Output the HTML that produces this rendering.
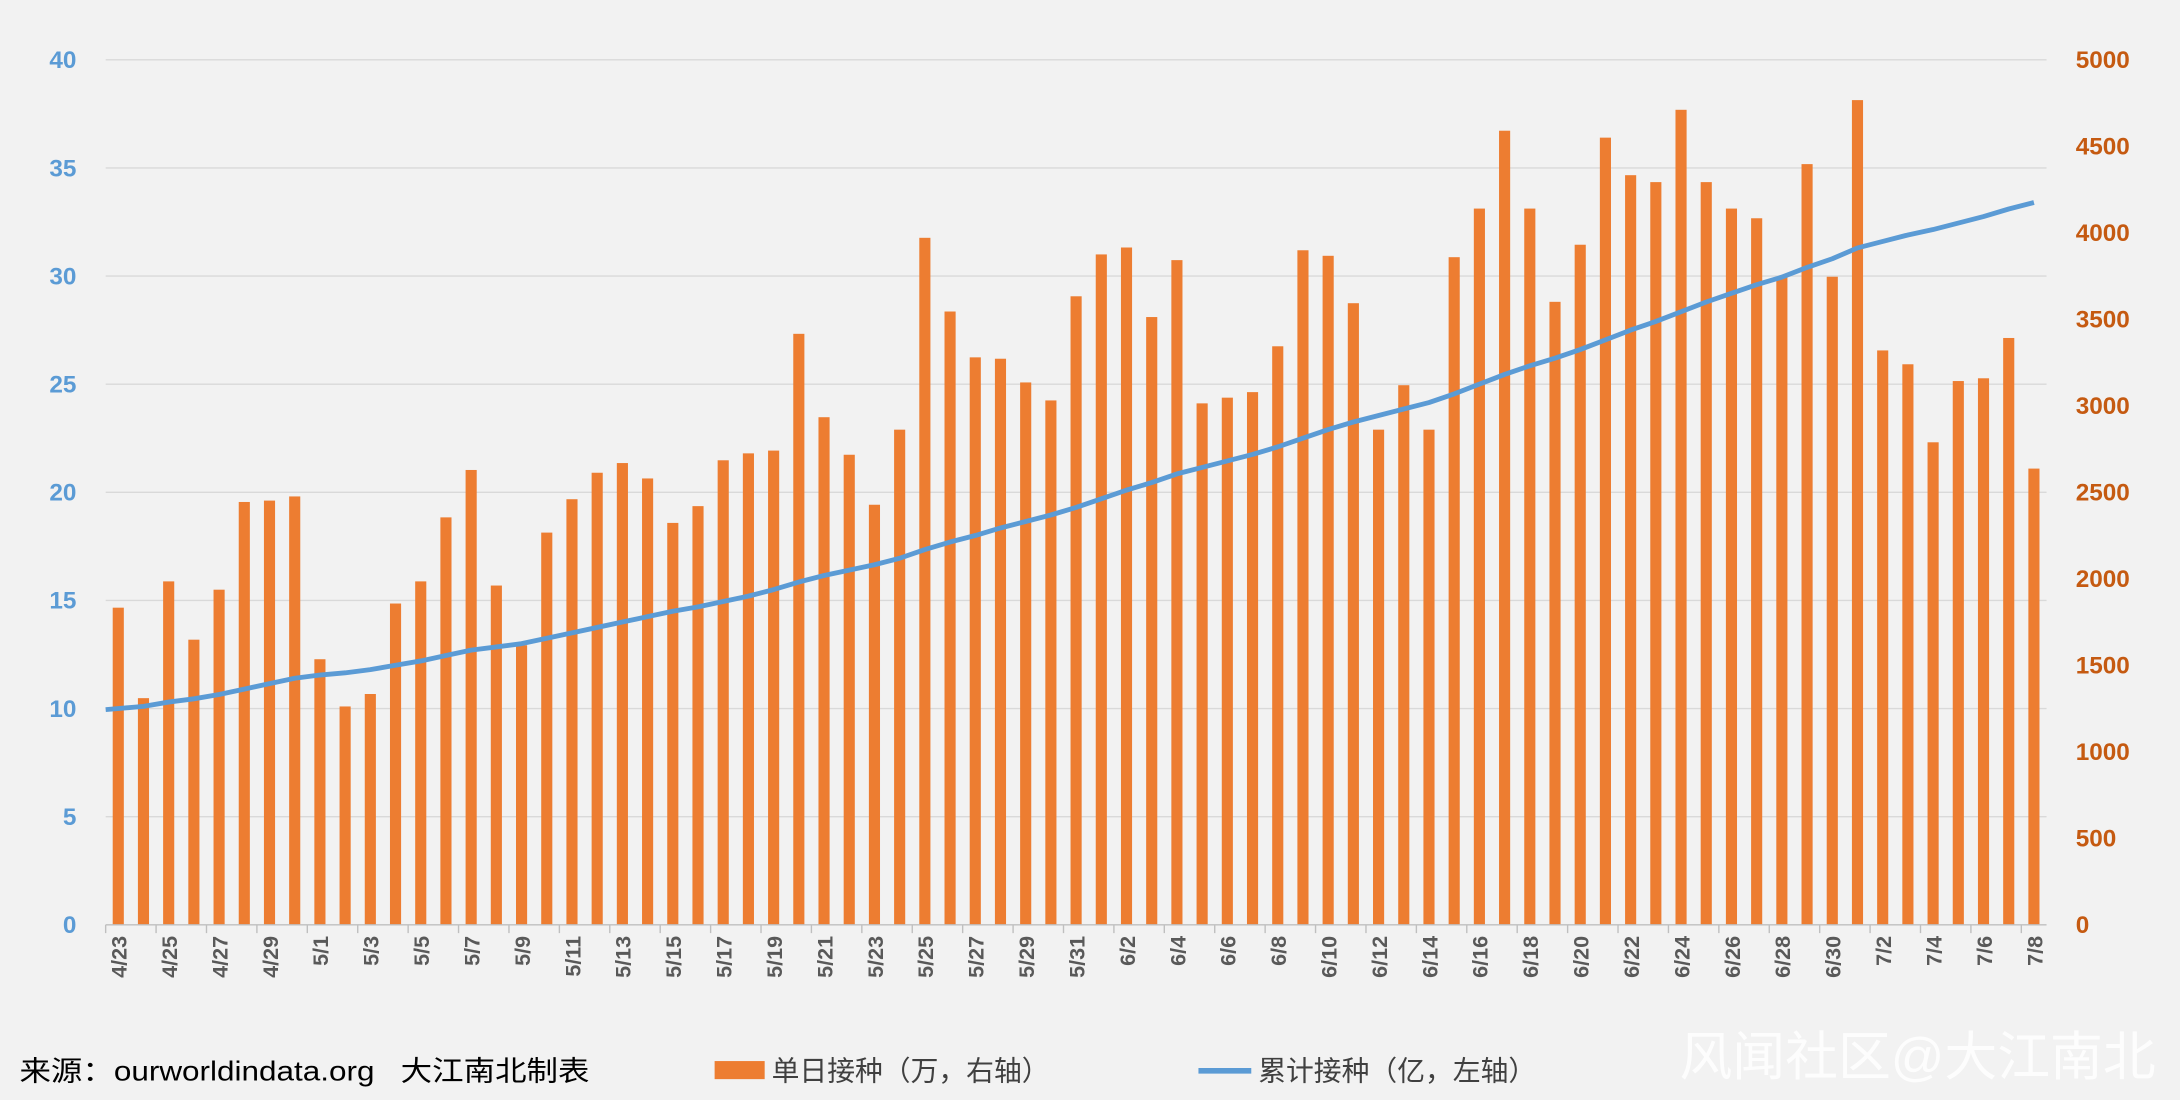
<!DOCTYPE html>
<html><head><meta charset="utf-8"><style>
html,body{margin:0;padding:0;background:#F2F2F2;}
svg{display:block;font-family:"Liberation Sans","Noto Sans CJK SC",sans-serif;}
</style></head><body>
<svg id="chart" width="2180" height="1100" viewBox="0 0 1568 791" preserveAspectRatio="none" xmlns="http://www.w3.org/2000/svg">
<rect x="0" y="0" width="1568" height="791" fill="#F2F2F2"/>
<g id="grid"></g><g id="bars"></g><g id="line"></g><g id="axes"></g>
<g>
<text x="14" y="777" font-size="20" fill="#000" textLength="410" lengthAdjust="spacingAndGlyphs">来源：ourworldindata.org &#160; 大江南北制表</text>
<rect x="514" y="763" width="36" height="13" fill="#ED7D31"/>
<text x="555" y="777" font-size="20" fill="#404040">单日接种（万，右轴）</text>
<line x1="862" y1="770" x2="900" y2="770" stroke="#5B9BD5" stroke-width="4"/>
<text x="905" y="777" font-size="20" fill="#404040">累计接种（亿，左轴）</text>
<text x="1208" y="773" font-size="38" fill="#FFFFFF" fill-opacity="0.85">风闻社区@大江南北</text>
</g>
</svg>
<script>
const categories = ["4/23","4/24","4/25","4/26","4/27","4/28","4/29","4/30","5/1","5/2","5/3","5/4","5/5","5/6","5/7","5/8","5/9","5/10","5/11","5/12","5/13","5/14","5/15","5/16","5/17","5/18","5/19","5/20","5/21","5/22","5/23","5/24","5/25","5/26","5/27","5/28","5/29","5/30","5/31","6/1","6/2","6/3","6/4","6/5","6/6","6/7","6/8","6/9","6/10","6/11","6/12","6/13","6/14","6/15","6/16","6/17","6/18","6/19","6/20","6/21","6/22","6/23","6/24","6/25","6/26","6/27","6/28","6/29","6/30","7/1","7/2","7/3","7/4","7/5","7/6","7/7","7/8"];
const dailyValues = [1833,1310,1985,1648,1937,2444,2452,2476,1535,1262,1334,1857,1985,2355,2629,1961,1616,2267,2460,2613,2669,2580,2323,2420,2685,2725,2741,3416,2934,2717,2428,2862,3971,3545,3280,3272,3135,3031,3633,3875,3915,3513,3842,3014,3047,3079,3344,3899,3867,3593,2862,3119,2862,3859,4140,4590,4140,3601,3931,4550,4333,4293,4711,4293,4140,4084,3746,4397,3746,4767,3320,3240,2789,3143,3159,3392,2637];
const cumulativeValues = [9.95,10.1,10.3,10.45,10.65,10.9,11.15,11.4,11.55,11.65,11.8,12.0,12.2,12.45,12.7,12.85,13.0,13.25,13.5,13.75,14.0,14.25,14.5,14.7,14.95,15.2,15.5,15.85,16.15,16.4,16.65,16.95,17.35,17.7,18.0,18.35,18.65,18.95,19.3,19.7,20.1,20.45,20.85,21.15,21.45,21.75,22.1,22.5,22.9,23.25,23.55,23.85,24.15,24.55,25.0,25.45,25.85,26.2,26.6,27.05,27.5,27.9,28.35,28.8,29.2,29.6,29.95,30.4,30.8,31.3,31.6,31.9,32.15,32.45,32.75,33.1,33.4];
const leftTicks = [0,5,10,15,20,25,30,35,40];
const rightTicks = [0,500,1000,1500,2000,2500,3000,3500,4000,4500,5000];

const NS="http://www.w3.org/2000/svg";
const X0=76, X1=1472, Y0=665, Y1=43;
const step=(X1-X0)/categories.length;
const xc=i=>X0+step*(i+0.5);
const yL=v=>Y0-(v/40)*(Y0-Y1);
const yR=v=>Y0-(v/5000)*(Y0-Y1);
function mk(tag,attrs,parent,txt){const e=document.createElementNS(NS,tag);for(const k in attrs)e.setAttribute(k,attrs[k]);if(txt!==undefined)e.textContent=txt;parent.appendChild(e);return e;}
const grid=document.getElementById('grid'),bars=document.getElementById('bars'),line=document.getElementById('line'),axes=document.getElementById('axes');

leftTicks.forEach((t,i)=>{
  if(t>0){const g=mk('line',{x1:X0,x2:X1,y1:yL(t),y2:yL(t),stroke:'#D9D9D9','stroke-width':1},grid);
  
  }
  const l=mk('text',{x:55,y:yL(t)+6,'font-size':17.5,'text-anchor':'end',fill:'#5B9BD5','font-weight':'bold'},axes,t);
  
  
});
rightTicks.forEach(t=>{
  const l=mk('text',{x:1493,y:yR(t)+6,'font-size':17.5,fill:'#C55A11','font-weight':'bold'},axes,t);
  
  
});
const bw=8;
dailyValues.forEach((v,i)=>{
  const r=mk('rect',{x:xc(i)-bw/2,y:yR(v),width:bw,height:Y0-yR(v),fill:'#ED7D31'},bars);
  
  
});
const pts=cumulativeValues.map((v,i)=>(i===0?X0:xc(i))+','+yL(v)).join(' ');
const pl=mk('polyline',{points:pts,fill:'none',stroke:'#5B9BD5','stroke-width':3.5,'stroke-linejoin':'round'},line);


const ax=mk('line',{x1:X0,x2:X1,y1:Y0,y2:Y0,stroke:'#BFBFBF','stroke-width':1},axes);


for(let i=0;i<=categories.length;i+=2){
  const tk=mk('line',{x1:X0+step*i,x2:X0+step*i,y1:Y0,y2:Y0+6,stroke:'#BFBFBF'},axes);
  
  
}
categories.forEach((c,i)=>{
  if(i%2!==0)return;
  const x=xc(i)+6,y=Y0+8;
  const t=mk('text',{x:x,y:y,'font-size':15.5,'font-weight':'bold',fill:'#595959','text-anchor':'end',transform:`rotate(-90 ${x} ${y})`},axes,c);
  
  
});
</script>
</body></html>
